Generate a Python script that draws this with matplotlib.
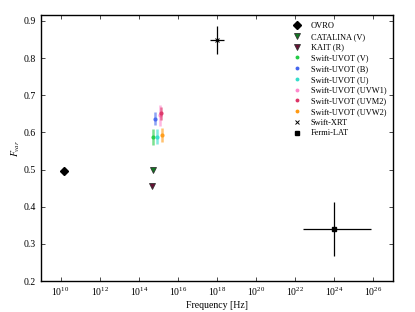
import numpy as np
import matplotlib
matplotlib.use('Agg')
import matplotlib.pyplot as plt
from matplotlib.lines import Line2D
from matplotlib.colors import to_rgba

plt.rcParams['font.family'] = ['Liberation Serif', 'DejaVu Serif']
plt.rcParams['mathtext.fontset'] = 'stix'

# frequency [Hz], F_var per instrument
ovro_nu, ovro_f = 1.5e10, 0.495
cat_nu, cat_f = 5.5e14, 0.50
kait_nu, kait_f = 4.7e14, 0.455

uvot_names = ['Swift-UVOT (V)', 'Swift-UVOT (B)', 'Swift-UVOT (U)',
              'Swift-UVOT (UVW1)', 'Swift-UVOT (UVM2)', 'Swift-UVOT (UVW2)']
uvot_nu = [5.55e14, 6.9e14, 8.6e14, 1.15e15, 1.34e15, 1.55e15]
uvot_f = [0.588, 0.637, 0.588, 0.646, 0.651, 0.594]
uvot_err = [0.022, 0.018, 0.020, 0.028, 0.018, 0.019]
uvot_col = ['#22cc44', '#4466ee', '#33ddcc', '#ff88cc', '#dd3366', '#ff9911']

xrt_nu, xrt_f, xrt_ferr = 1.0e18, 0.848, 0.038
xrt_nuerr = [[5.4e17], [1.2e18]]

lat_nu, lat_f, lat_ferr = 1.0e24, 0.34, 0.072
lat_nuerr = [[1.0e24 - 2.4e22], [7.2e25 - 1.0e24]]

fig = plt.figure(figsize=(4.15, 3.12), dpi=100)
ax = fig.add_axes([0.099, 0.099, 0.848, 0.852])

handles = []
ax.plot(ovro_nu, ovro_f, 'D', color='black', ms=4)
handles.append(Line2D([], [], ls='', marker='D', color='black', ms=4, label='OVRO'))
ax.plot(cat_nu, cat_f, 'v', color='#117722', mec='#333333', ms=4, mew=0.6)
handles.append(Line2D([], [], ls='', marker='v', color='#117722', mec='#333333', ms=4, mew=0.6, label='CATALINA (V)'))
ax.plot(kait_nu, kait_f, 'v', color='#661133', mec='#333333', ms=4, mew=0.6)
handles.append(Line2D([], [], ls='', marker='v', color='#661133', mec='#333333', ms=4, mew=0.6, label='KAIT (R)'))
for i in range(len(uvot_names)):
    ax.errorbar(uvot_nu[i], uvot_f[i], yerr=uvot_err[i], fmt='none',
                ecolor=to_rgba(uvot_col[i], 0.6), elinewidth=1.8, capsize=0)
    ax.plot(uvot_nu[i], uvot_f[i], 'o', color=uvot_col[i], ms=3, mew=0, alpha=0.9)
    handles.append(Line2D([], [], ls='', marker='o', color=uvot_col[i], ms=2.8, mew=0, label=uvot_names[i]))
ax.errorbar(xrt_nu, xrt_f, xerr=xrt_nuerr, yerr=xrt_ferr, fmt='x', color='black',
            ms=3.5, mew=0.7, elinewidth=0.9, capsize=0)
handles.append(Line2D([], [], ls='', marker='x', color='black', ms=3.5, mew=0.7, label='Swift-XRT'))
ax.errorbar(lat_nu, lat_f, xerr=lat_nuerr, yerr=lat_ferr, fmt='s', color='black',
            ms=3.5, elinewidth=0.9, capsize=0)
handles.append(Line2D([], [], ls='', marker='s', color='black', ms=3.5, label='Fermi-LAT'))

ax.set_xscale('log')
ax.set_xlim(1e9, 1e27)
ax.set_ylim(0.2, 0.915)
ax.set_xticks([10.0**k for k in range(10, 27, 2)])
ax.xaxis.set_minor_locator(matplotlib.ticker.NullLocator())
ax.set_yticks(np.arange(0.2, 0.95, 0.1))
ax.set_yticklabels(['%.1f' % v for v in np.arange(0.2, 0.95, 0.1)])
ax.tick_params(direction='in', top=True, right=True, labelsize=7, length=3, width=0.5)
for s in ax.spines.values():
    s.set_linewidth(1.0)

ax.set_xlabel('Frequency [Hz]', fontsize=7, labelpad=2)
ax.set_ylabel(r'$F_{var}$', fontsize=7, labelpad=1)

leg = ax.legend(handles=handles, loc='upper right', bbox_to_anchor=(1.0, 1.0),
                frameon=False, fontsize=6, numpoints=1, handlelength=1.2,
                handletextpad=1.1, labelspacing=0.33, borderaxespad=0.4)

plt.savefig('out.png', dpi=100)
